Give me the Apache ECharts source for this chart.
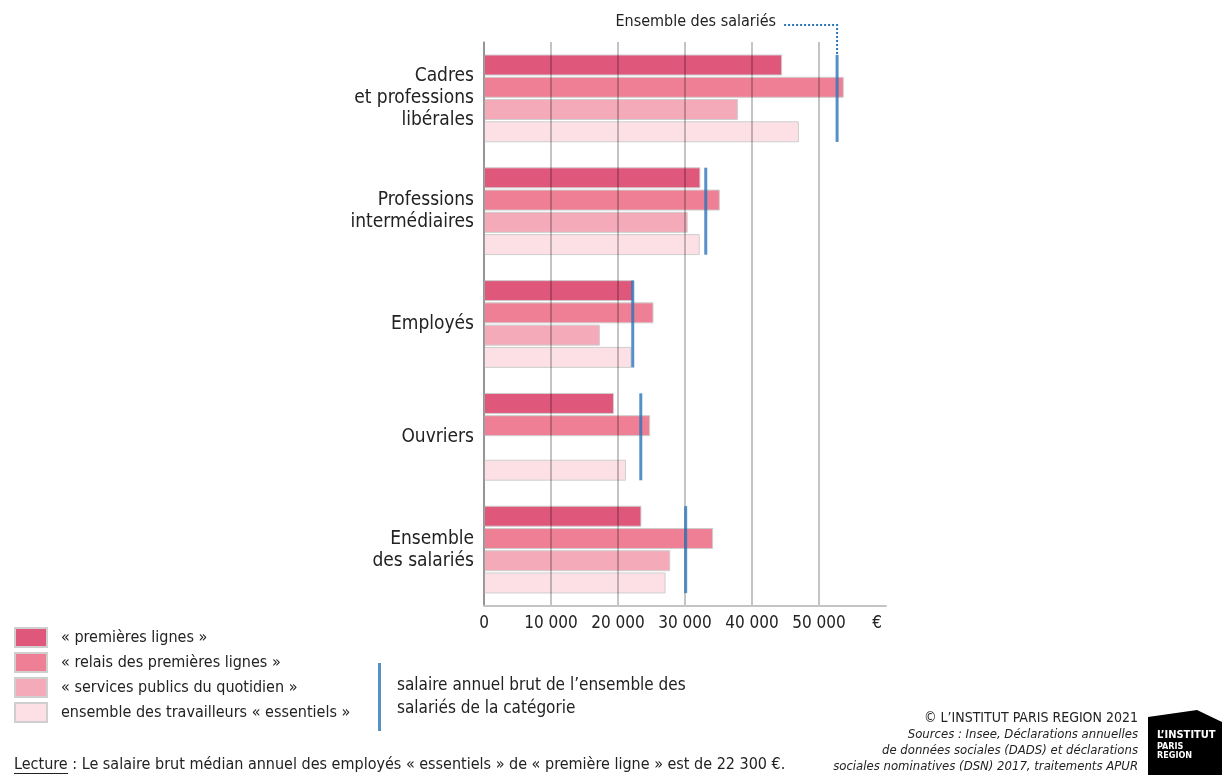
<!DOCTYPE html>
<html>
<head>
<meta charset="utf-8">
<script src="https://cdn.jsdelivr.net/npm/echarts@6/dist/echarts.min.js"></script>
<style>
html,body{margin:0;padding:0;background:#fff;}
#main{width:1231px;height:775px;}
</style>
</head>
<body>
<div id="main"></div>
<script>
// catégories socio-professionnelles
var categories = ['Cadres\net professions\nlibérales', 'Professions\nintermédiaires', 'Employés', 'Ouvriers', 'Ensemble\ndes salariés'];
var seriesNames = ['« premières lignes »', '« relais des premières lignes »', '« services publics du quotidien »', 'ensemble des travailleurs « essentiels »'];
var premieresLignes = [44500, 32300, 22300, 19400, 23500];
var relaisPremieresLignes = [53700, 35200, 25300, 24800, 34200];
var servicesPublics = [37900, 30400, 17300, null, 27800];
var ensembleEssentiels = [47000, 32200, 22000, 21200, 27100];
var ensembleSalaries = [52700, 33100, 22200, 23400, 30100];
var refName = 'salaire annuel brut de l’ensemble des\nsalariés de la catégorie';
var xTicks = [0, 10000, 20000, 30000, 40000, 50000, 60000];

var font = '"Liberation Sans Narrow", "DejaVu Sans Condensed", "Roboto", sans-serif';
var colors = ['#e0577c', '#ee7f94', '#f4aab8', '#fce0e5'];
var values = [premieresLignes, relaisPremieresLignes, servicesPublics, ensembleEssentiels];
var grid = 'rgba(0,0,0,0.23)';

function fmt(v) {
    if (v === xTicks[xTicks.length - 1]) return '{e|€}';
    return String(v).replace(/\B(?=(\d{3})+(?!\d))/g, ' ');
}

var series = [];
for (var i = 0; i < 4; i++) {
    series.push({
        name: seriesNames[i],
        type: 'bar',
        barWidth: 21,
        barGap: '6%',
        itemStyle: {color: colors[i], borderColor: '#cfcfcf', borderWidth: 1},
        data: values[i].map(function (v) { return v == null ? '-' : v; })
    });
}
series.push({
    name: refName,
    type: 'scatter',
    symbol: 'rect',
    symbolSize: [3, 87],
    z: 10,
    itemStyle: {color: '#2a74b8'},
    data: ensembleSalaries
});

var chart = echarts.init(document.getElementById('main'));
var option = {
    animation: false,
    textStyle: {fontFamily: font},
    grid: {left: 484, right: 345, top: 42, bottom: 169},
    legend: [{
        orient: 'vertical',
        left: 9,
        top: 622,
        itemWidth: 32,
        itemHeight: 19,
        itemGap: 4,
        data: seriesNames.map(function (n) { return {name: n, icon: 'rect'}; }),
        textStyle: {fontFamily: font, fontSize: 16, color: '#222', padding: [0, 0, 0, 9]}
    }, {
        left: 373,
        top: 658,
        itemWidth: 3,
        itemHeight: 68,
        data: [{name: refName, icon: 'rect'}],
        textStyle: {fontFamily: font, fontSize: 17, lineHeight: 23, color: '#222', padding: [0, 0, 0, 11]}
    }],
    xAxis: {
        type: 'value',
        min: 0,
        max: 60000,
        interval: 10000,
        z: 5,
        axisLine: {show: true, lineStyle: {color: '#c4c4c4', width: 2}},
        axisTick: {show: false},
        splitLine: {show: true, lineStyle: {color: [grid, grid, grid, grid, grid, grid, 'rgba(0,0,0,0)'], width: 2}},
        axisLabel: {
            fontFamily: font, fontSize: 17, color: '#222', margin: 9,
            formatter: fmt,
            rich: {e: {fontFamily: font, fontSize: 17, color: '#222', padding: [0, 18, 0, 0]}}
        }
    },
    yAxis: {
        type: 'category',
        inverse: true,
        data: categories,
        axisLine: {show: true, lineStyle: {color: '#c4c4c4', width: 2}},
        axisTick: {show: false},
        axisLabel: {fontFamily: font, fontSize: 19, lineHeight: 22, color: '#222', margin: 10, align: 'right'}
    },
    series: series
};
chart.setOption(option);

// annotation pointillée vers la ligne « Ensemble des salariés » des cadres
var p = chart.convertToPixel({seriesIndex: 4}, [ensembleSalaries[0], 0]);
var topY = p[1] - 43;
chart.setOption({
    graphic: [{
        type: 'polyline',
        shape: {points: [[p[0] - 53, 25], [p[0], 25], [p[0], topY]]},
        style: {stroke: '#2a74b8', lineWidth: 2, lineDash: [2, 2], fill: null}
    }, {
        type: 'text',
        x: p[0] - 61, y: 22,
        style: {text: 'Ensemble des salariés', font: '16px ' + font, fill: '#222', align: 'right', verticalAlign: 'middle'}
    }, {
        type: 'text',
        x: 14, y: 765,
        style: {text: 'Lecture : Le salaire brut médian annuel des employés « essentiels » de « première ligne » est de 22 300 €.', font: '16px ' + font, fill: '#222', verticalAlign: 'middle'}
    }, {
        type: 'line',
        shape: {x1: 14, y1: 773.5, x2: 68, y2: 773.5},
        style: {stroke: '#222', lineWidth: 1}
    }, {
        type: 'text',
        x: 1138, y: 718,
        style: {text: '© L’INSTITUT PARIS REGION 2021', font: '14px ' + font, fill: '#222', align: 'right', verticalAlign: 'middle'}
    }, {
        type: 'text',
        x: 1138, y: 727,
        style: {text: 'Sources : Insee, Déclarations annuelles\nde données sociales (DADS) et déclarations\nsociales nominatives (DSN) 2017, traitements APUR', font: 'italic 13px ' + font, lineHeight: 16, fill: '#222', align: 'right', verticalAlign: 'top'}
    }, {
        type: 'polygon',
        shape: {points: [[1148, 717], [1197, 710], [1222, 722], [1222, 775], [1148, 775]]},
        style: {fill: '#000'}
    }, {
        type: 'text',
        x: 1157, y: 730,
        style: {text: 'L’INSTITUT', font: 'bold 11px ' + font, fill: '#fff'}
    }, {
        type: 'text',
        x: 1157, y: 742,
        style: {text: 'PARIS\nREGION', font: 'bold 9px ' + font, lineHeight: 9, fill: '#fff'}
    }]
});
</script>
</body>
</html>
